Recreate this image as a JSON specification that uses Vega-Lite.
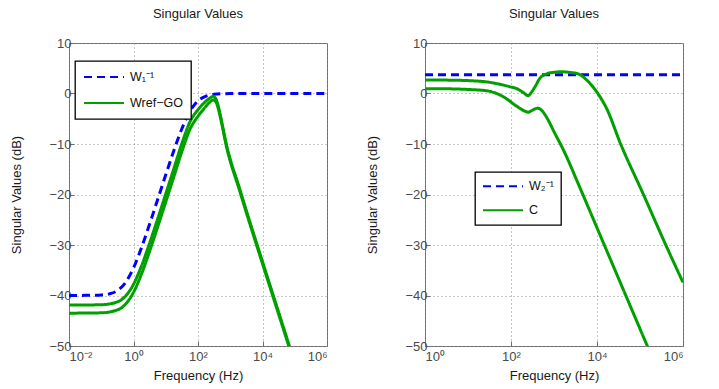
{
  "$schema": "https://vega.github.io/schema/vega-lite/v6.json",
  "background": "white",
  "padding": {"left": 10, "top": 7, "right": 5, "bottom": 5},
  "bounds": "flush",
  "spacing": 98,
  "config": {
    "font": "Liberation Sans",
    "view": {"stroke": "#6e6e6e", "strokeWidth": 1},
    "axis": {
      "labelFont": "Liberation Sans",
      "labelFontSize": 13,
      "labelColor": "#4a4a4a",
      "titleFont": "Liberation Sans",
      "titleFontSize": 13,
      "titleFontWeight": "normal",
      "titleColor": "#1a1a1a",
      "domain": false,
      "grid": true,
      "gridColor": "#8c8c8c",
      "gridDash": [1, 3],
      "gridWidth": 1,
      "ticks": true,
      "tickColor": "#6e6e6e",
      "tickSize": -5
    },
    "axisX": {"labelPadding": 9, "titlePadding": 6},
    "axisY": {"labelPadding": 3, "titlePadding": 25},
    "title": {"font": "Liberation Sans", "fontSize": 13, "fontWeight": "normal", "color": "#1a1a1a", "offset": 16, "anchor": "middle"},
    "legend": {
      "orient": "none",
      "title": null,
      "strokeColor": "#000000",
      "strokeWidth": 1.3,
      "fillColor": "#ffffff",
      "symbolType": "stroke",
      "symbolSize": 1600,
      "symbolStrokeWidth": 2,
      "labelFont": "Liberation Sans",
      "labelFontSize": 12.5,
      "labelColor": "#111111",
      "labelOffset": 5
    }
  },
  "datasets": {
    "curves": [
      {"panel": "L", "series": "W₁⁻¹", "sv": "a", "f": 0.01, "db": -40.0},
      {"panel": "L", "series": "W₁⁻¹", "sv": "a", "f": 0.03162, "db": -39.97},
      {"panel": "L", "series": "W₁⁻¹", "sv": "a", "f": 0.1, "db": -39.89},
      {"panel": "L", "series": "W₁⁻¹", "sv": "a", "f": 0.1778, "db": -39.67},
      {"panel": "L", "series": "W₁⁻¹", "sv": "a", "f": 0.3162, "db": -39.03},
      {"panel": "L", "series": "W₁⁻¹", "sv": "a", "f": 0.5623, "db": -37.46},
      {"panel": "L", "series": "W₁⁻¹", "sv": "a", "f": 1, "db": -34.55},
      {"panel": "L", "series": "W₁⁻¹", "sv": "a", "f": 1.778, "db": -30.49},
      {"panel": "L", "series": "W₁⁻¹", "sv": "a", "f": 3.162, "db": -25.84},
      {"panel": "L", "series": "W₁⁻¹", "sv": "a", "f": 5.623, "db": -20.98},
      {"panel": "L", "series": "W₁⁻¹", "sv": "a", "f": 10, "db": -16.09},
      {"panel": "L", "series": "W₁⁻¹", "sv": "a", "f": 17.78, "db": -11.33},
      {"panel": "L", "series": "W₁⁻¹", "sv": "a", "f": 31.62, "db": -6.97},
      {"panel": "L", "series": "W₁⁻¹", "sv": "a", "f": 56.23, "db": -3.54},
      {"panel": "L", "series": "W₁⁻¹", "sv": "a", "f": 100, "db": -1.46},
      {"panel": "L", "series": "W₁⁻¹", "sv": "a", "f": 177.8, "db": -0.52},
      {"panel": "L", "series": "W₁⁻¹", "sv": "a", "f": 316.2, "db": -0.17},
      {"panel": "L", "series": "W₁⁻¹", "sv": "a", "f": 562.3, "db": -0.05},
      {"panel": "L", "series": "W₁⁻¹", "sv": "a", "f": 1000, "db": -0.02},
      {"panel": "L", "series": "W₁⁻¹", "sv": "a", "f": 10000, "db": 0},
      {"panel": "L", "series": "W₁⁻¹", "sv": "a", "f": 1000000, "db": 0},

      {"panel": "L", "series": "Wref−GO", "sv": "a", "f": 0.01, "db": -41.9},
      {"panel": "L", "series": "Wref−GO", "sv": "a", "f": 0.1, "db": -41.83},
      {"panel": "L", "series": "Wref−GO", "sv": "a", "f": 0.3162, "db": -41.26},
      {"panel": "L", "series": "Wref−GO", "sv": "a", "f": 0.5623, "db": -40.14},
      {"panel": "L", "series": "Wref−GO", "sv": "a", "f": 1, "db": -37.78},
      {"panel": "L", "series": "Wref−GO", "sv": "a", "f": 1.778, "db": -34.11},
      {"panel": "L", "series": "Wref−GO", "sv": "a", "f": 3.162, "db": -29.63},
      {"panel": "L", "series": "Wref−GO", "sv": "a", "f": 5.623, "db": -24.82},
      {"panel": "L", "series": "Wref−GO", "sv": "a", "f": 10, "db": -19.87},
      {"panel": "L", "series": "Wref−GO", "sv": "a", "f": 17.78, "db": -14.9},
      {"panel": "L", "series": "Wref−GO", "sv": "a", "f": 31.62, "db": -9.9},
      {"panel": "L", "series": "Wref−GO", "sv": "a", "f": 56.23, "db": -5.6},
      {"panel": "L", "series": "Wref−GO", "sv": "a", "f": 100, "db": -3.2},
      {"panel": "L", "series": "Wref−GO", "sv": "a", "f": 158.5, "db": -1.8},
      {"panel": "L", "series": "Wref−GO", "sv": "a", "f": 223.9, "db": -1.0},
      {"panel": "L", "series": "Wref−GO", "sv": "a", "f": 295.1, "db": -0.6},
      {"panel": "L", "series": "Wref−GO", "sv": "a", "f": 354.8, "db": -1.0},
      {"panel": "L", "series": "Wref−GO", "sv": "a", "f": 416.9, "db": -2.3},
      {"panel": "L", "series": "Wref−GO", "sv": "a", "f": 501.2, "db": -4.5},
      {"panel": "L", "series": "Wref−GO", "sv": "a", "f": 631.0, "db": -7.6},
      {"panel": "L", "series": "Wref−GO", "sv": "a", "f": 794.3, "db": -10.6},
      {"panel": "L", "series": "Wref−GO", "sv": "a", "f": 1000, "db": -13.0},
      {"panel": "L", "series": "Wref−GO", "sv": "a", "f": 1778, "db": -18.0},
      {"panel": "L", "series": "Wref−GO", "sv": "a", "f": 3162, "db": -23.2},
      {"panel": "L", "series": "Wref−GO", "sv": "a", "f": 10000, "db": -33.3},
      {"panel": "L", "series": "Wref−GO", "sv": "a", "f": 31623, "db": -43.3},
      {"panel": "L", "series": "Wref−GO", "sv": "a", "f": 79433, "db": -51.3},

      {"panel": "L", "series": "Wref−GO", "sv": "b", "f": 0.01, "db": -43.5},
      {"panel": "L", "series": "Wref−GO", "sv": "b", "f": 0.1, "db": -43.43},
      {"panel": "L", "series": "Wref−GO", "sv": "b", "f": 0.3162, "db": -42.86},
      {"panel": "L", "series": "Wref−GO", "sv": "b", "f": 0.5623, "db": -41.74},
      {"panel": "L", "series": "Wref−GO", "sv": "b", "f": 1, "db": -39.38},
      {"panel": "L", "series": "Wref−GO", "sv": "b", "f": 1.778, "db": -35.71},
      {"panel": "L", "series": "Wref−GO", "sv": "b", "f": 3.162, "db": -31.23},
      {"panel": "L", "series": "Wref−GO", "sv": "b", "f": 5.623, "db": -26.42},
      {"panel": "L", "series": "Wref−GO", "sv": "b", "f": 10, "db": -21.47},
      {"panel": "L", "series": "Wref−GO", "sv": "b", "f": 17.78, "db": -16.5},
      {"panel": "L", "series": "Wref−GO", "sv": "b", "f": 31.62, "db": -11.5},
      {"panel": "L", "series": "Wref−GO", "sv": "b", "f": 56.23, "db": -7.1},
      {"panel": "L", "series": "Wref−GO", "sv": "b", "f": 100, "db": -4.5},
      {"panel": "L", "series": "Wref−GO", "sv": "b", "f": 158.5, "db": -2.9},
      {"panel": "L", "series": "Wref−GO", "sv": "b", "f": 223.9, "db": -1.8},
      {"panel": "L", "series": "Wref−GO", "sv": "b", "f": 295.1, "db": -1.3},
      {"panel": "L", "series": "Wref−GO", "sv": "b", "f": 354.8, "db": -1.6},
      {"panel": "L", "series": "Wref−GO", "sv": "b", "f": 416.9, "db": -2.8},
      {"panel": "L", "series": "Wref−GO", "sv": "b", "f": 501.2, "db": -4.9},
      {"panel": "L", "series": "Wref−GO", "sv": "b", "f": 631.0, "db": -8.0},
      {"panel": "L", "series": "Wref−GO", "sv": "b", "f": 794.3, "db": -11.0},
      {"panel": "L", "series": "Wref−GO", "sv": "b", "f": 1000, "db": -13.4},
      {"panel": "L", "series": "Wref−GO", "sv": "b", "f": 1778, "db": -18.4},
      {"panel": "L", "series": "Wref−GO", "sv": "b", "f": 3162, "db": -23.6},
      {"panel": "L", "series": "Wref−GO", "sv": "b", "f": 10000, "db": -33.7},
      {"panel": "L", "series": "Wref−GO", "sv": "b", "f": 31623, "db": -43.7},
      {"panel": "L", "series": "Wref−GO", "sv": "b", "f": 79433, "db": -51.7},

      {"panel": "R", "series": "W₂⁻¹", "sv": "a", "f": 1, "db": 3.7},
      {"panel": "R", "series": "W₂⁻¹", "sv": "a", "f": 10, "db": 3.7},
      {"panel": "R", "series": "W₂⁻¹", "sv": "a", "f": 100, "db": 3.7},
      {"panel": "R", "series": "W₂⁻¹", "sv": "a", "f": 1000, "db": 3.7},
      {"panel": "R", "series": "W₂⁻¹", "sv": "a", "f": 10000, "db": 3.7},
      {"panel": "R", "series": "W₂⁻¹", "sv": "a", "f": 100000, "db": 3.7},
      {"panel": "R", "series": "W₂⁻¹", "sv": "a", "f": 1000000, "db": 3.7},

      {"panel": "R", "series": "C", "sv": "a", "f": 1, "db": 2.67},
      {"panel": "R", "series": "C", "sv": "a", "f": 3.162, "db": 2.65},
      {"panel": "R", "series": "C", "sv": "a", "f": 10, "db": 2.55},
      {"panel": "R", "series": "C", "sv": "a", "f": 26.92, "db": 2.3},
      {"panel": "R", "series": "C", "sv": "a", "f": 50.12, "db": 1.9},
      {"panel": "R", "series": "C", "sv": "a", "f": 93.33, "db": 1.35},
      {"panel": "R", "series": "C", "sv": "a", "f": 141.3, "db": 0.9},
      {"panel": "R", "series": "C", "sv": "a", "f": 195.0, "db": 0.17},
      {"panel": "R", "series": "C", "sv": "a", "f": 251.2, "db": -0.43},
      {"panel": "R", "series": "C", "sv": "a", "f": 302.0, "db": 0.3},
      {"panel": "R", "series": "C", "sv": "a", "f": 363.1, "db": 1.35},
      {"panel": "R", "series": "C", "sv": "a", "f": 467.7, "db": 3.0},
      {"panel": "R", "series": "C", "sv": "a", "f": 660.7, "db": 3.86},
      {"panel": "R", "series": "C", "sv": "a", "f": 1000, "db": 4.2},
      {"panel": "R", "series": "C", "sv": "a", "f": 1514, "db": 4.3},
      {"panel": "R", "series": "C", "sv": "a", "f": 2239, "db": 4.2},
      {"panel": "R", "series": "C", "sv": "a", "f": 3715, "db": 3.86},
      {"panel": "R", "series": "C", "sv": "a", "f": 5754, "db": 2.67},
      {"panel": "R", "series": "C", "sv": "a", "f": 9772, "db": 0.36},
      {"panel": "R", "series": "C", "sv": "a", "f": 16596, "db": -2.9},
      {"panel": "R", "series": "C", "sv": "a", "f": 35481, "db": -10},
      {"panel": "R", "series": "C", "sv": "a", "f": 120226, "db": -20},
      {"panel": "R", "series": "C", "sv": "a", "f": 398107, "db": -30},
      {"panel": "R", "series": "C", "sv": "a", "f": 1000000, "db": -37.4},

      {"panel": "R", "series": "C", "sv": "b", "f": 1, "db": 0.95},
      {"panel": "R", "series": "C", "sv": "b", "f": 3.162, "db": 0.93},
      {"panel": "R", "series": "C", "sv": "b", "f": 10, "db": 0.8},
      {"panel": "R", "series": "C", "sv": "b", "f": 26.92, "db": 0.55},
      {"panel": "R", "series": "C", "sv": "b", "f": 66.07, "db": -0.63},
      {"panel": "R", "series": "C", "sv": "b", "f": 134.9, "db": -2.5},
      {"panel": "R", "series": "C", "sv": "b", "f": 199.5, "db": -3.4},
      {"panel": "R", "series": "C", "sv": "b", "f": 251.2, "db": -3.7},
      {"panel": "R", "series": "C", "sv": "b", "f": 316.2, "db": -3.3},
      {"panel": "R", "series": "C", "sv": "b", "f": 416.9, "db": -2.9},
      {"panel": "R", "series": "C", "sv": "b", "f": 524.8, "db": -3.4},
      {"panel": "R", "series": "C", "sv": "b", "f": 660.7, "db": -4.6},
      {"panel": "R", "series": "C", "sv": "b", "f": 1047, "db": -7.9},
      {"panel": "R", "series": "C", "sv": "b", "f": 1660, "db": -11.2},
      {"panel": "R", "series": "C", "sv": "b", "f": 3802, "db": -18.2},
      {"panel": "R", "series": "C", "sv": "b", "f": 10000, "db": -26.6},
      {"panel": "R", "series": "C", "sv": "b", "f": 31623, "db": -36.6},
      {"panel": "R", "series": "C", "sv": "b", "f": 100000, "db": -46.6},
      {"panel": "R", "series": "C", "sv": "b", "f": 158489, "db": -50.6}
    ]
  },
  "hconcat": [
    {
      "width": 258,
      "height": 303,
      "title": "Singular Values",
      "data": {"name": "curves"},
      "transform": [{"filter": "datum.panel == 'L'"}],
      "mark": {"type": "line", "strokeWidth": 3, "clip": true, "interpolate": "monotone"},
      "encoding": {
        "x": {
          "field": "f", "type": "quantitative",
          "scale": {"type": "log", "domain": [0.01, 1000000]},
          "axis": {
            "title": "Frequency (Hz)",
            "values": [0.01, 1, 100, 10000, 1000000],
            "labelExpr": "datum.value < 0.05 ? '10⁻²' : datum.value < 5 ? '10⁰' : datum.value < 500 ? '10²' : datum.value < 50000 ? '10⁴' : '10⁶'"
          }
        },
        "y": {
          "field": "db", "type": "quantitative",
          "scale": {"domain": [-50, 10], "nice": false},
          "axis": {"title": "Singular Values (dB)", "values": [-50, -40, -30, -20, -10, 0, 10]}
        },
        "color": {
          "field": "series", "type": "nominal",
          "scale": {"domain": ["W₁⁻¹", "Wref−GO"], "range": ["#0000ff", "#00a000"]},
          "legend": {"legendX": 6, "legendY": 18, "padding": 8, "rowPadding": 10, "clipHeight": 16}
        },
        "strokeDash": {
          "field": "series", "type": "nominal",
          "scale": {"domain": ["W₁⁻¹", "Wref−GO"], "range": [[8, 5], [1, 0]]},
          "legend": {"legendX": 6, "legendY": 18, "padding": 8, "rowPadding": 10, "clipHeight": 16}
        },
        "detail": {"field": "sv"}
      }
    },
    {
      "width": 258,
      "height": 303,
      "title": "Singular Values",
      "data": {"name": "curves"},
      "transform": [{"filter": "datum.panel == 'R'"}],
      "mark": {"type": "line", "strokeWidth": 3, "clip": true, "interpolate": "monotone"},
      "encoding": {
        "x": {
          "field": "f", "type": "quantitative",
          "scale": {"type": "log", "domain": [1, 1000000]},
          "axis": {
            "title": "Frequency (Hz)",
            "values": [1, 100, 10000, 1000000],
            "labelExpr": "datum.value < 0.05 ? '10⁻²' : datum.value < 5 ? '10⁰' : datum.value < 500 ? '10²' : datum.value < 50000 ? '10⁴' : '10⁶'"
          }
        },
        "y": {
          "field": "db", "type": "quantitative",
          "scale": {"domain": [-50, 10], "nice": false},
          "axis": {"title": "Singular Values (dB)", "values": [-50, -40, -30, -20, -10, 0, 10]}
        },
        "color": {
          "field": "series", "type": "nominal",
          "scale": {"domain": ["W₂⁻¹", "C"], "range": ["#0000ff", "#00a000"]},
          "legend": {"legendX": 50, "legendY": 129, "padding": 7, "rowPadding": 9, "clipHeight": 14.5}
        },
        "strokeDash": {
          "field": "series", "type": "nominal",
          "scale": {"domain": ["W₂⁻¹", "C"], "range": [[8, 5], [1, 0]]},
          "legend": {"legendX": 50, "legendY": 129, "padding": 7, "rowPadding": 9, "clipHeight": 14.5}
        },
        "detail": {"field": "sv"}
      }
    }
  ],
  "resolve": {
    "scale": {"color": "independent", "strokeDash": "independent", "x": "independent", "y": "independent"},
    "legend": {"color": "independent", "strokeDash": "independent"}
  }
}
